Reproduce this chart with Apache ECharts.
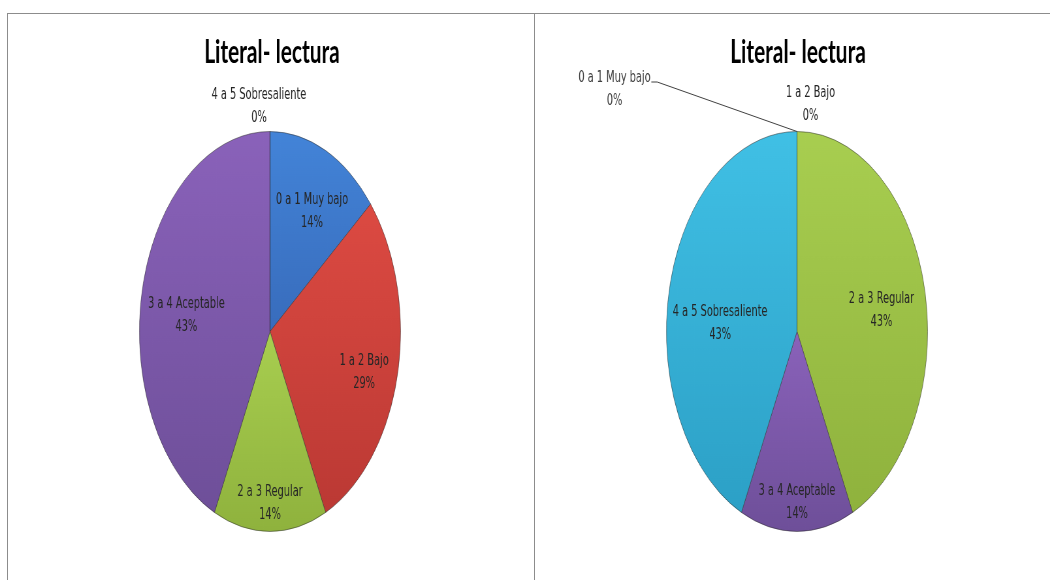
<!DOCTYPE html>
<html>
<head>
<meta charset="utf-8">
<title>Literal- lectura</title>
<script src="https://cdn.jsdelivr.net/npm/echarts@6/dist/echarts.min.js"></script>
<style>
    html, body { margin: 0; padding: 0; background: #ffffff; overflow: hidden; }
    #frame { position: absolute; left: 7px; top: 13px; width: 1100px; height: 600px; border-left: 1px solid #8c8c8c; border-top: 1px solid #8c8c8c; }
    #divider { position: absolute; left: 534px; top: 13px; width: 1px; height: 580px; background: #8c8c8c; }
    /* the pies in the picture are tall ellipses, so the chart is drawn wide and squeezed */
    #chart { position: absolute; left: 0; top: 0; width: 1608px; height: 580px; transform: scaleX(0.653); transform-origin: 0 0; }
</style>
</head>
<body>
<div id="frame"></div>
<div id="divider"></div>
<div id="chart"></div>
<script>
const squeeze = 0.653

const chartTitle = 'Literal- lectura'
const categories = ['0 a 1 Muy bajo', '1 a 2 Bajo', '2 a 3 Regular', '3 a 4 Aceptable', '4 a 5 Sobresaliente']
const leftValues = [14, 29, 14, 43, 0]
const rightValues = [0, 0, 43, 14, 43]

// top and bottom of each slice gradient
const sliceColors = [
    ['#4384d8', '#386cbc'],
    ['#dc4a42', '#bb3934'],
    ['#a8ce50', '#8fb23d'],
    ['#8a62ba', '#6e4f99'],
    ['#40c0e5', '#2ca0c6']
]

// where each label sits: [share of radius, turn from the slice middle in degrees]
const leftSpots = [[0.68, 3], [0.75, 3.4], [0.86, 0], [0.645, -5.6], [1.13, -4.3]]
const rightSpots = [null, [1.14, 5.2], [0.655, 3.6], [0.855, 0], [0.59, -8.6]]

// screen positions, turned into the wide drawing space
const pieRadius = 200
const leftCenter = [270 / squeeze, 331.5]
const rightCenter = [797 / squeeze, 331.5]
const titleX = [272 / squeeze, 798 / squeeze]
const calloutSpot = [614.5 / squeeze, 89.5] // 0 a 1 Muy bajo, right pie

const labelFont = { fontFamily: 'DejaVu Sans', fontSize: 15, lineHeight: 23, color: '#262626' }

function sliceFill(i) {
    return {
        type: 'linear', x: 0, y: 0, x2: 0, y2: 1,
        colorStops: [
            { offset: 0, color: sliceColors[i][0] },
            { offset: 1, color: sliceColors[i][1] }
        ]
    }
}

function buildData(values, calloutIndex) {
    return values.map((v, i) => {
        const item = { name: categories[i], value: v, itemStyle: { color: sliceFill(i) } }
        if (i === calloutIndex) {
            item.label = { position: 'outside', color: '#404040' }
            item.labelLine = { show: true, lineStyle: { color: '#404040', width: 1 } }
        }
        return item
    })
}

function placeLabels(spots, center, calloutIndex) {
    return function (params) {
        const i = params.dataIndex
        const rect = params.labelRect
        if (i === calloutIndex) {
            const x = calloutSpot[0]
            const y = calloutSpot[1]
            const lineY = y - 7.5
            const textRight = x + rect.width / 2
            const anchor = [center[0], center[1] - pieRadius]
            return {
                x: x, y: y, align: 'center', verticalAlign: 'middle',
                labelLinePoints: [anchor, [textRight + 10, lineY], [textRight + 1, lineY]]
            }
        }
        const spot = spots[i]
        if (!spot) return {}
        const lx = rect.x + rect.width / 2
        const ly = rect.y + rect.height / 2
        let a = Math.atan2(lx - center[0], -(ly - center[1]))
        a += spot[1] * Math.PI / 180
        const r = spot[0] * pieRadius
        return {
            x: center[0] + r * Math.sin(a),
            y: center[1] - r * Math.cos(a),
            align: 'center',
            verticalAlign: 'middle'
        }
    }
}

function pieSeries(values, center, spots, calloutIndex) {
    return {
        type: 'pie',
        center: center,
        radius: pieRadius,
        startAngle: 90,
        clockwise: true,
        avoidLabelOverlap: false,
        silent: true,
        itemStyle: { borderColor: 'rgba(40,40,40,0.5)', borderWidth: 1 },
        label: Object.assign({ show: true, position: 'inside', formatter: '{b}\n{c}%' }, labelFont),
        labelLine: { show: false },
        labelLayout: placeLabels(spots, center, calloutIndex),
        data: buildData(values, calloutIndex)
    }
}

const chart = echarts.init(document.getElementById('chart'), null, { renderer: 'canvas' })
chart.setOption({
    animation: false,
    title: titleX.map(x => ({
        text: chartTitle,
        left: x,
        top: 35,
        textAlign: 'center',
        padding: 0,
        textStyle: { fontFamily: 'Lato', fontWeight: 'bold', fontSize: 32, lineHeight: 36, color: '#000000' }
    })),
    series: [
        pieSeries(leftValues, leftCenter, leftSpots, -1),
        pieSeries(rightValues, rightCenter, rightSpots, 0)
    ]
})
</script>
</body>
</html>
